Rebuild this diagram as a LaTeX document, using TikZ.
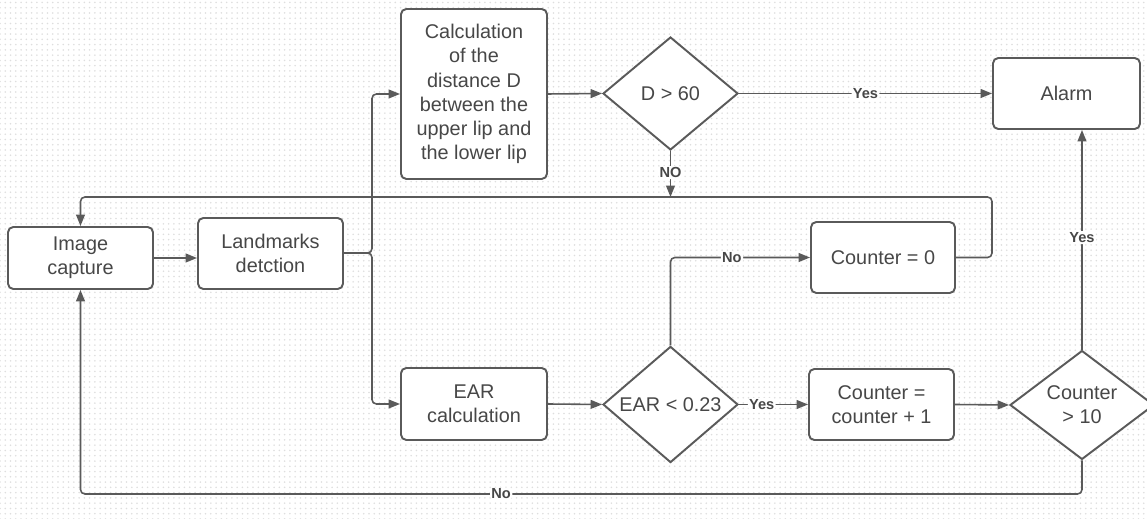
\documentclass[tikz,border=0pt]{standalone}
\usepackage{fontspec}
\setmainfont{Liberation Sans}
\usetikzlibrary{shapes.geometric,arrows.meta,patterns}
\definecolor{lncol}{HTML}{5A5A5A}
\definecolor{txcol}{HTML}{474747}
\tikzset{
  procbox/.style={draw=lncol, line width=1.1pt, rounded corners=3pt, fill=white,
    align=center, text=txcol, inner sep=2pt,
    font=\fontsize{11.3}{13.8}\selectfont},
  decide/.style={diamond, draw=lncol, line width=1.1pt, fill=white, align=center,
    text=txcol, inner sep=0pt, font=\fontsize{11.3}{13.8}\selectfont},
  conn/.style={draw=lncol, line width=0.9pt, rounded corners=2.5pt,
    -{Triangle[length=6.5pt,width=5pt]}},
  lbl/.style={fill=white, inner sep=0.8pt, text=txcol,
    font=\bfseries\fontsize{8.3}{9}\selectfont}
}
\begin{document}
\begin{tikzpicture}[x=0.02cm,y=-0.02cm]
\useasboundingbox (0,0) rectangle (1147,519);
\clip (0,0) rectangle (1147,519);
\fill[white] (0,0) rectangle (1147,519);
\fill[pattern=dots, pattern color=black!13] (0,0) rectangle (1147,519);

\node[procbox, minimum width=2.9cm, minimum height=1.24cm] (img) at (80.5,258) {Image\\capture};
\node[procbox, minimum width=2.9cm, minimum height=1.42cm] (land) at (270.5,253.5) {Landmarks\\detction};
\node[procbox, minimum width=2.92cm, minimum height=3.4cm] (calc) at (474,94) {Calculation\\of the\\distance D\\between the\\upper lip and\\the lower lip};
\node[procbox, minimum width=2.92cm, minimum height=1.44cm] (ear) at (474,404) {EAR\\calculation};
\node[procbox, minimum width=2.88cm, minimum height=1.42cm] (c0) at (883,257.5) {Counter = 0};
\node[procbox, minimum width=2.9cm, minimum height=1.42cm] (c1) at (881.5,404.5) {Counter =\\counter + 1};
\node[procbox, minimum width=2.94cm, minimum height=1.42cm] (alarm) at (1066.5,93.5) {Alarm};

\node[decide, minimum width=2.7cm, minimum height=2.26cm] (d60) at (670.5,93.5) {D > 60};
\node[decide, minimum width=2.7cm, minimum height=2.14cm] (e23) at (670.5,404.5) {EAR < 0.23};
\node[decide, minimum width=2.88cm, minimum height=2.12cm] (c10) at (1082,405) {Counter\\> 10};

\coordinate (br) at (372,253);
\coordinate (loopR) at (992,197);
\coordinate (loopL) at (80.5,197);
\coordinate (noTip) at (670.5,197);
\coordinate (botR) at (1082,494);
\coordinate (botL) at (80.5,494);

% main flow
\draw[conn] (img.east |- 0,258) -- (land.west |- 0,258);
\draw[conn] (land.east |- br) -- (br) |- (calc.west);
\draw[conn] (land.east |- br) -- (br) |- (ear.west);
\draw[conn] (calc.east) -- (d60.west);
\draw[conn] (d60.east) -- node[lbl, pos=0.5]{Yes} (alarm.west);
\draw[conn] (d60.south) -- node[lbl, pos=0.47]{NO} (noTip);
\draw[conn] (c0.east) -| (loopR) -- (loopL) -- (img.north);
\draw[conn] (ear.east) -- (e23.west);
\draw[conn] (e23.north) |- node[lbl, pos=0.72]{No} (c0.west);
\draw[conn] (e23.east) -- node[lbl, pos=0.33]{Yes} (c1.west);
\draw[conn] (c1.east) -- (c10.west);
\draw[conn] (c10.north) -- node[lbl, pos=0.51]{Yes} (c10.north |- alarm.south);
\draw[conn] (c10.south) -- (botR) -- node[lbl, pos=0.58]{No} (botL) -- (img.south);
\end{tikzpicture}
\end{document}
